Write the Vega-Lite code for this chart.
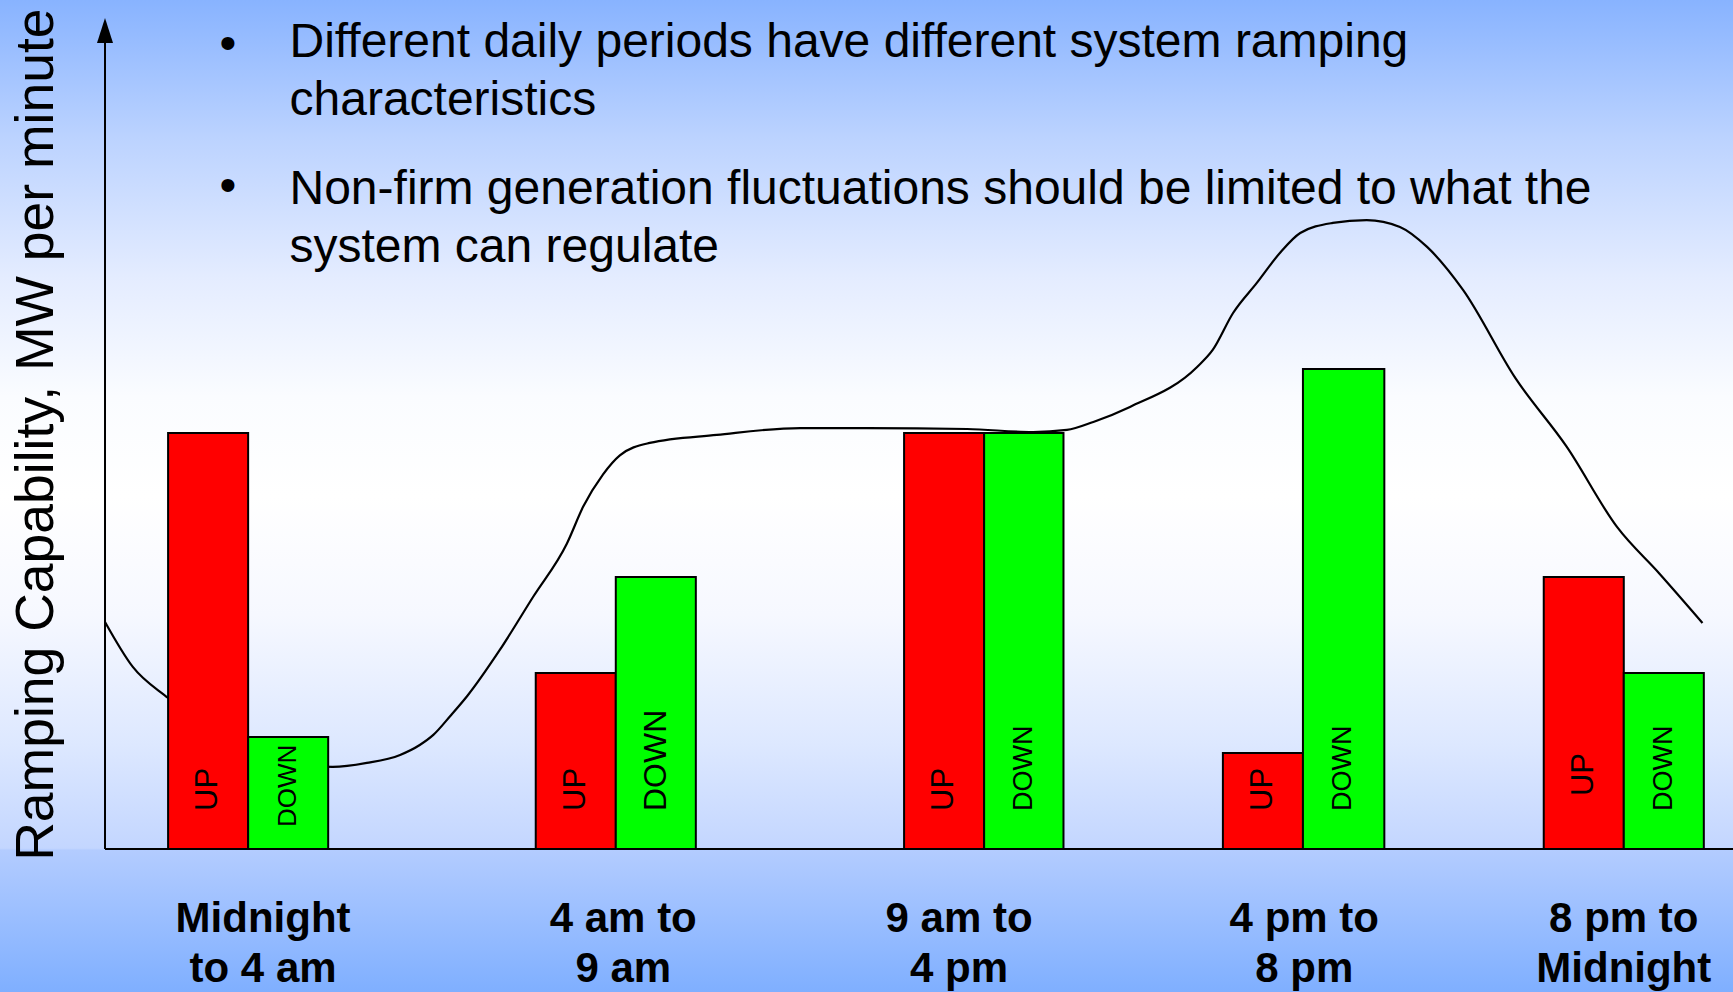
{
  "$schema": "https://vega.github.io/schema/vega-lite/v6.json",
  "width": 1733,
  "height": 992,
  "autosize": {"type": "none"},
  "padding": 0,
  "background": "#b4ccff",
  "view": {
    "stroke": null,
    "fill": {
      "gradient": "linear", "x1": 0, "y1": 0, "x2": 0, "y2": 1,
      "stops": [
        {"offset": 0.0, "color": "#88b3ff"},
        {"offset": 0.14, "color": "#bcd3ff"},
        {"offset": 0.28, "color": "#e4ecff"},
        {"offset": 0.40, "color": "#fafcff"},
        {"offset": 0.50, "color": "#ffffff"},
        {"offset": 0.62, "color": "#f6f8ff"},
        {"offset": 0.75, "color": "#dde8ff"},
        {"offset": 0.855, "color": "#c3d6ff"},
        {"offset": 0.857, "color": "#b3ccff"},
        {"offset": 1.0, "color": "#7fafff"}
      ]
    }
  },
  "config": {"font": "Liberation Sans"},
  "datasets": {
    "bars": [
      {"period": "Midnight to 4 am", "type": "UP", "start": 0.93, "end": 2.11, "value": 26},
      {"period": "Midnight to 4 am", "type": "DOWN", "start": 2.11, "end": 3.29, "value": 7},
      {"period": "4 am to 9 am", "type": "UP", "start": 6.35, "end": 7.53, "value": 11},
      {"period": "4 am to 9 am", "type": "DOWN", "start": 7.53, "end": 8.71, "value": 17},
      {"period": "9 am to 4 pm", "type": "UP", "start": 11.78, "end": 12.96, "value": 26},
      {"period": "9 am to 4 pm", "type": "DOWN", "start": 12.96, "end": 14.13, "value": 26},
      {"period": "4 pm to 8 pm", "type": "UP", "start": 16.48, "end": 17.66, "value": 6},
      {"period": "4 pm to 8 pm", "type": "DOWN", "start": 17.66, "end": 18.86, "value": 30},
      {"period": "8 pm to Midnight", "type": "UP", "start": 21.21, "end": 22.39, "value": 17},
      {"period": "8 pm to Midnight", "type": "DOWN", "start": 22.39, "end": 23.57, "value": 11}
    ],
    "periods": [
      {"label": "Midnight\nto 4 am", "mid": 2.33},
      {"label": "4 am to\n9 am", "mid": 7.64},
      {"label": "9 am to\n4 pm", "mid": 12.59},
      {"label": "4 pm to\n8 pm", "mid": 17.68},
      {"label": "8 pm to\nMidnight", "mid": 22.39}
    ],
    "curve": [
      {"hour": 0.0, "level": 14.19},
      {"hour": 0.41, "level": 11.38},
      {"hour": 0.93, "level": 9.44},
      {"hour": 1.55, "level": 7.44},
      {"hour": 2.14, "level": 6.0},
      {"hour": 2.73, "level": 5.25},
      {"hour": 3.36, "level": 5.13},
      {"hour": 3.86, "level": 5.38},
      {"hour": 4.35, "level": 5.88},
      {"hour": 4.64, "level": 6.5},
      {"hour": 4.84, "level": 7.13},
      {"hour": 5.09, "level": 8.31},
      {"hour": 5.34, "level": 9.56},
      {"hour": 5.82, "level": 12.44},
      {"hour": 6.31, "level": 15.75},
      {"hour": 6.81, "level": 19.1},
      {"hour": 7.05, "level": 21.4},
      {"hour": 7.34, "level": 23.4},
      {"hour": 7.59, "level": 24.6},
      {"hour": 8.03, "level": 25.38},
      {"hour": 9.02, "level": 25.88},
      {"hour": 10.25, "level": 26.31},
      {"hour": 11.23, "level": 26.31},
      {"hour": 12.71, "level": 26.25},
      {"hour": 13.68, "level": 26.06},
      {"hour": 14.18, "level": 26.19},
      {"hour": 14.57, "level": 26.69},
      {"hour": 15.11, "level": 27.63},
      {"hour": 16.1, "level": 30.13},
      {"hour": 16.33, "level": 31.19},
      {"hour": 16.63, "level": 33.5},
      {"hour": 16.98, "level": 35.38},
      {"hour": 17.32, "level": 37.25},
      {"hour": 17.62, "level": 38.5},
      {"hour": 18.1, "level": 39.13},
      {"hour": 18.6, "level": 39.31},
      {"hour": 19.09, "level": 38.88},
      {"hour": 19.49, "level": 37.63},
      {"hour": 20.02, "level": 34.94},
      {"hour": 20.79, "level": 29.44},
      {"hour": 21.55, "level": 25.13},
      {"hour": 22.29, "level": 20.13},
      {"hour": 22.92, "level": 17.19},
      {"hour": 23.55, "level": 14.13}
    ],
    "one": [{}]
  },
  "layer": [
    {
      "data": {"name": "curve"},
      "mark": {"type": "line", "interpolate": "monotone", "color": "#000000", "strokeWidth": 2.2},
      "encoding": {
        "x": {"field": "hour", "type": "quantitative", "axis": null, "scale": {"domain": [-1.548, 24], "nice": false, "zero": false}},
        "y": {"field": "level", "type": "quantitative", "axis": null, "scale": {"domain": [-8.9375, 53.0625], "nice": false, "zero": false}}
      }
    },
    {
      "data": {"name": "bars"},
      "mark": {"type": "rect", "stroke": "#000000", "strokeWidth": 2},
      "encoding": {
        "x": {"field": "start", "type": "quantitative", "axis": null, "scale": {"domain": [-1.548, 24], "nice": false, "zero": false}},
        "x2": {"field": "end"},
        "y": {"field": "value", "type": "quantitative", "axis": null, "scale": {"domain": [-8.9375, 53.0625], "nice": false, "zero": false}},
        "y2": {"datum": 0},
        "color": {"field": "type", "type": "nominal", "legend": null, "scale": {"domain": ["UP", "DOWN"], "range": ["#ff0000", "#00ff00"]}}
      }
    },
    {
      "data": {"name": "bars"},
      "transform": [{"filter": "!(datum.period === 'Midnight to 4 am' && datum.type === 'DOWN') && !(datum.period === '8 pm to Midnight' && datum.type === 'UP')"}],
      "mark": {"type": "text", "angle": 270, "align": "left", "baseline": "middle", "dy": 40, "color": "#000000", "font": "Liberation Sans"},
      "encoding": {
        "x": {"field": "start", "type": "quantitative", "axis": null, "scale": {"domain": [-1.548, 24], "nice": false, "zero": false}},
        "y": {"datum": 2.375, "type": "quantitative", "axis": null, "scale": {"domain": [-8.9375, 53.0625], "nice": false, "zero": false}},
        "text": {"field": "type", "type": "nominal"},
        "size": {"condition": [{"test": "datum.type === 'UP'", "value": 31}, {"test": "datum.period === '4 am to 9 am'", "value": 32}], "value": 27}
      }
    },
    {
      "data": {"name": "bars"},
      "transform": [{"filter": "datum.period === 'Midnight to 4 am' && datum.type === 'DOWN'"}],
      "mark": {"type": "text", "angle": 270, "align": "left", "baseline": "middle", "dy": 40, "color": "#000000", "font": "Liberation Sans", "fontSize": 26},
      "encoding": {
        "x": {"field": "start", "type": "quantitative", "axis": null, "scale": {"domain": [-1.548, 24], "nice": false, "zero": false}},
        "y": {"datum": 1.375, "type": "quantitative", "axis": null, "scale": {"domain": [-8.9375, 53.0625], "nice": false, "zero": false}},
        "text": {"field": "type", "type": "nominal"}
      }
    },
    {
      "data": {"name": "bars"},
      "transform": [{"filter": "datum.period === '8 pm to Midnight' && datum.type === 'UP'"}],
      "mark": {"type": "text", "angle": 270, "align": "left", "baseline": "middle", "dy": 40, "color": "#000000", "font": "Liberation Sans", "fontSize": 31},
      "encoding": {
        "x": {"field": "start", "type": "quantitative", "axis": null, "scale": {"domain": [-1.548, 24], "nice": false, "zero": false}},
        "y": {"datum": 3.31, "type": "quantitative", "axis": null, "scale": {"domain": [-8.9375, 53.0625], "nice": false, "zero": false}},
        "text": {"field": "type", "type": "nominal"}
      }
    },
    {
      "data": {"name": "periods"},
      "mark": {"type": "text", "align": "center", "baseline": "alphabetic", "fontSize": 42, "fontWeight": "bold", "lineBreak": "\n", "lineHeight": 50, "color": "#000000"},
      "encoding": {
        "x": {"field": "mid", "type": "quantitative", "axis": null, "scale": {"domain": [-1.548, 24], "nice": false, "zero": false}},
        "y": {"datum": -5.19, "type": "quantitative", "axis": null, "scale": {"domain": [-8.9375, 53.0625], "nice": false, "zero": false}},
        "text": {"field": "label", "type": "nominal"}
      }
    },
    {
      "data": {"name": "one"},
      "mark": {"type": "text", "align": "center", "baseline": "alphabetic", "angle": 270, "fontSize": 53.5, "color": "#000000", "text": "Ramping Capability, MW per minute"},
      "encoding": {
        "x": {"datum": -0.77, "type": "quantitative", "axis": null, "scale": {"domain": [-1.548, 24], "nice": false, "zero": false}},
        "y": {"datum": 25.9, "type": "quantitative", "axis": null, "scale": {"domain": [-8.9375, 53.0625], "nice": false, "zero": false}}
      }
    },
    {
      "data": {"name": "one"},
      "mark": {"type": "text", "align": "left", "baseline": "alphabetic", "fontSize": 48, "lineBreak": "\n", "lineHeight": 58, "color": "#000000", "text": "Different daily periods have different system ramping\ncharacteristics"},
      "encoding": {
        "x": {"datum": 2.72, "type": "quantitative", "axis": null, "scale": {"domain": [-1.548, 24], "nice": false, "zero": false}},
        "y": {"datum": 49.47, "type": "quantitative", "axis": null, "scale": {"domain": [-8.9375, 53.0625], "nice": false, "zero": false}}
      }
    },
    {
      "data": {"name": "one"},
      "mark": {"type": "text", "align": "left", "baseline": "alphabetic", "fontSize": 48, "lineBreak": "\n", "lineHeight": 58, "color": "#000000", "text": "Non-firm generation fluctuations should be limited to what the\nsystem can regulate"},
      "encoding": {
        "x": {"datum": 2.72, "type": "quantitative", "axis": null, "scale": {"domain": [-1.548, 24], "nice": false, "zero": false}},
        "y": {"datum": 40.29, "type": "quantitative", "axis": null, "scale": {"domain": [-8.9375, 53.0625], "nice": false, "zero": false}}
      }
    },
    {
      "data": {"name": "one"},
      "mark": {"type": "text", "align": "center", "baseline": "middle", "fontSize": 48, "color": "#000000", "text": "•"},
      "encoding": {
        "x": {"datum": 1.81, "type": "quantitative", "axis": null, "scale": {"domain": [-1.548, 24], "nice": false, "zero": false}},
        "y": {"datum": 50.25, "type": "quantitative", "axis": null, "scale": {"domain": [-8.9375, 53.0625], "nice": false, "zero": false}}
      }
    },
    {
      "data": {"name": "one"},
      "mark": {"type": "text", "align": "center", "baseline": "middle", "fontSize": 48, "color": "#000000", "text": "•"},
      "encoding": {
        "x": {"datum": 1.81, "type": "quantitative", "axis": null, "scale": {"domain": [-1.548, 24], "nice": false, "zero": false}},
        "y": {"datum": 41.4, "type": "quantitative", "axis": null, "scale": {"domain": [-8.9375, 53.0625], "nice": false, "zero": false}}
      }
    },
    {
      "data": {"name": "one"},
      "mark": {"type": "rule", "color": "#000000", "strokeWidth": 2},
      "encoding": {
        "x": {"datum": 0, "type": "quantitative", "axis": null, "scale": {"domain": [-1.548, 24], "nice": false, "zero": false}},
        "y": {"datum": 0, "type": "quantitative", "axis": null, "scale": {"domain": [-8.9375, 53.0625], "nice": false, "zero": false}},
        "y2": {"datum": 50.5}
      }
    },
    {
      "data": {"name": "one"},
      "mark": {"type": "rule", "color": "#000000", "strokeWidth": 2},
      "encoding": {
        "x": {"datum": 0, "type": "quantitative", "axis": null, "scale": {"domain": [-1.548, 24], "nice": false, "zero": false}},
        "x2": {"datum": 24},
        "y": {"datum": 0, "type": "quantitative", "axis": null, "scale": {"domain": [-8.9375, 53.0625], "nice": false, "zero": false}}
      }
    },
    {
      "data": {"name": "one"},
      "mark": {"type": "point", "filled": true, "color": "#000000", "opacity": 1, "shape": "M0,-1L0.64,1L-0.64,1Z", "size": 625, "strokeWidth": 0},
      "encoding": {
        "x": {"datum": 0, "type": "quantitative", "axis": null, "scale": {"domain": [-1.548, 24], "nice": false, "zero": false}},
        "y": {"datum": 51.16, "type": "quantitative", "axis": null, "scale": {"domain": [-8.9375, 53.0625], "nice": false, "zero": false}}
      }
    }
  ]
}
